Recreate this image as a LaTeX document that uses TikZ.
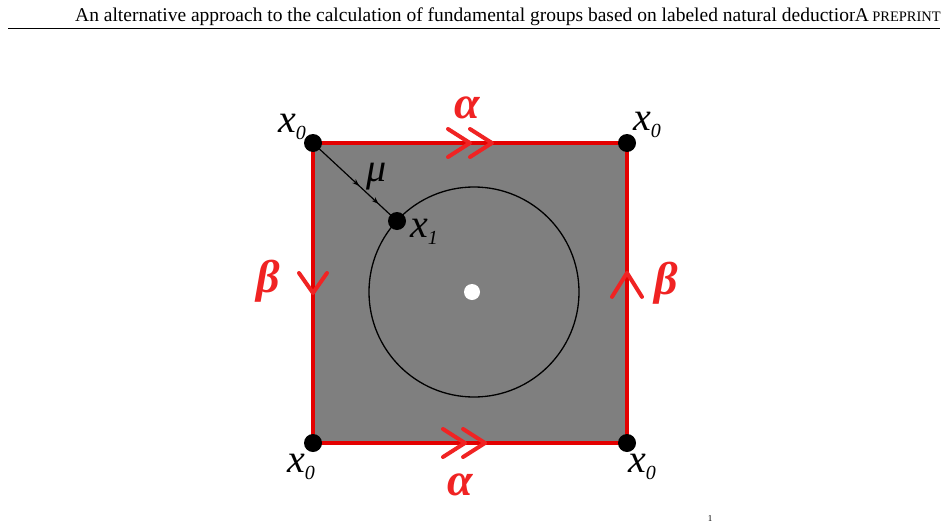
\documentclass[tikz,border=0pt]{standalone}
\usepackage{fontspec}
\setmainfont{Liberation Serif}
\usetikzlibrary{arrows.meta,decorations.markings}
\definecolor{sqgrey}{RGB}{127,127,127}
\definecolor{edgered}{RGB}{228,0,0}
\definecolor{labred}{RGB}{240,35,35}
\newcommand{\lblsub}[1]{\raisebox{-7pt}{\fontsize{20}{20}\selectfont\itshape #1}}
\tikzset{
  dot/.style={circle,fill=black,inner sep=0pt,minimum size=18pt},
  hole/.style={circle,fill=white,inner sep=0pt,minimum size=16pt},
  ptlabel/.style={anchor=base west,inner sep=0pt,font=\fontsize{40}{40}\selectfont\itshape},
  greeklab/.style={anchor=base west,inner sep=0pt,text=labred,font=\fontsize{46}{46}\selectfont\bfseries\itshape},
  chev/.style={draw=labred,line width=4pt,line cap=round,line join=round},
  edge/.style={draw=edgered,line width=4.5pt,line cap=round,postaction={decorate}},
  hdr/.style={inner sep=0pt,font=\fontsize{19.5}{22}\selectfont}
}
\begin{document}
\begin{tikzpicture}[x=1pt,y=-1pt]
\clip (0,0) rectangle (948,525);
\fill[white] (0,0) rectangle (948,525);
% header
\node[hdr,anchor=base west] (htext) at (75,21) {An alternative approach to the calculation of fundamental groups based on labeled natural deduction};
\node[hdr,anchor=base east,fill=white,inner sep=0pt] (hpre) at (941,21) {A\,{\fontsize{14.5}{16}\selectfont PREPRINT}};
\coordinate (rl) at (8,28);
\coordinate (rr) at (940,28);
\draw[line width=0.8pt] (rl) -- (rr);
% square
\coordinate (TL) at (313,143);
\coordinate (TR) at (627,143);
\coordinate (BL) at (313,443);
\coordinate (BR) at (627,443);
\fill[sqgrey] (TL) rectangle (BR);
% circle
\node[draw=black,line width=1.3pt,circle,minimum size=210pt,inner sep=0pt] (circ) at (474,292) {};
\node[hole] (hole) at (472,292) {};
% edges with chevrons
\draw[edge,decoration={markings,
   mark=at position 0.5 with {\draw[chev] (-22pt,14pt) -- (0pt,0pt) -- (-22pt,-14pt);},
   mark=at position 0.57 with {\draw[chev] (-22pt,14pt) -- (0pt,0pt) -- (-22pt,-14pt);}}]
   (TL) -- (TR);
\draw[edge,decoration={markings,
   mark=at position 0.484 with {\draw[chev] (-22pt,14pt) -- (0pt,0pt) -- (-22pt,-14pt);},
   mark=at position 0.548 with {\draw[chev] (-22pt,14pt) -- (0pt,0pt) -- (-22pt,-14pt);}}]
   (BL) -- (BR);
\draw[edge,decoration={markings,
   mark=at position 0.5 with {\draw[chev] (-20pt,14pt) -- (0pt,0pt) -- (-20pt,-14pt);}}]
   (TL) -- (BL);
\draw[edge,decoration={markings,
   mark=at position 0.567 with {\draw[chev] (-24pt,15pt) -- (0pt,0pt) -- (-24pt,-15pt);}}]
   (BR) -- (TR);
% corner dots
\node[dot] (tl) at (TL) {};
\node[dot] (tr) at (TR) {};
\node[dot] (bl) at (BL) {};
\node[dot] (br) at (BR) {};
\node[dot] (x1) at (397,221) {};
% mu path
\draw[line width=1.2pt,decoration={markings,
   mark=at position 0.55 with {\arrow{Stealth[length=7pt,width=5pt]}},
   mark=at position 0.78 with {\arrow{Stealth[length=7pt,width=5pt]}}},postaction={decorate}]
   (tl.center) -- (x1.center);
% labels
\node[ptlabel] (ltl) at (278,132) {x\lblsub{0}};
\node[ptlabel] (ltr) at (633,130) {x\lblsub{0}};
\node[ptlabel] (lbl) at (287,472) {x\lblsub{0}};
\node[ptlabel] (lbr) at (628,472) {x\lblsub{0}};
\node[ptlabel] (lx1) at (410,237) {x\lblsub{1}};
\node[ptlabel] (lmu) at (366,181) {μ};
\node[greeklab] (atop) at (454,118) {α};
\node[greeklab] (abot) at (447,495) {α};
\node[greeklab] (bl2) at (256,292) {β};
\node[greeklab] (br2) at (654,294) {β};
% page number
\node[inner sep=0pt,anchor=north,font=\fontsize{9}{9}\selectfont] (pg) at (710,515) {1};
\end{tikzpicture}
\end{document}
